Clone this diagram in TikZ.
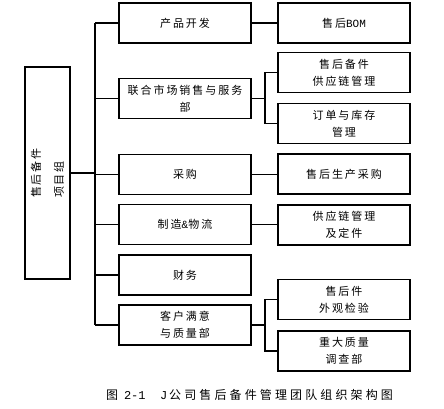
\documentclass[tikz,border=0pt]{standalone}
\usepackage{fontspec}
\setmainfont{Noto Sans CJK SC}[LetterSpace=18]
\newfontfamily\capfont{Noto Sans CJK SC}[LetterSpace=26]
\newfontfamily\latfont{Liberation Mono}
\begin{document}
\begin{tikzpicture}[x=1pt,y=-1pt,
  box/.style={draw,line width=1.3pt,minimum width=132pt,minimum height=40pt,inner sep=0pt,
    align=center,font=\fontsize{11}{17}\selectfont},
  conn/.style={line width=1.3pt}]
\useasboundingbox (0,0) rectangle (444,409);
% root
\node[draw,line width=1.3pt,minimum width=212pt,minimum height=45pt,inner sep=0pt,rotate=90,
  align=left,font=\fontsize{11}{23}\selectfont] (root) at (47.5,173) {售后备件\\项目组};
% level 1
\node[box] (a1) at (185,23) {产品开发};
\node[box] (a2) at (185,98.5) {联合市场销售与服务\\部};
\node[box] (a3) at (185,174.5) {采购};
\node[box] (a4) at (185,224.5) {制造{\latfont\&}物流};
\node[box] (a5) at (185,275) {财务};
\node[box] (a6) at (185,325) {客户满意\\与质量部};
% level 2
\node[box] (b1) at (344,23) {售后{\latfont BOM}};
\node[box] (b2) at (344,72.5) {售后备件\\供应链管理};
\node[box] (b3) at (344,123.5) {订单与库存\\管理};
\node[box] (b4) at (344,174) {售后生产采购};
\node[box] (b5) at (344,225) {供应链管理\\及定件};
\node[box] (b6) at (344,299.5) {售后件\\外观检验};
\node[box] (b7) at (344,351) {重大质量\\调查部};
% trunk
\coordinate (t1) at (95,23);
\coordinate (t2) at (95,325);
\draw[conn] (t1) -- (t2);
\draw[conn] (root.south) -- (root.south -| t1);
\foreach \n in {a1,a2,a3,a4,a5,a6} \draw[conn] (\n.west) -- (\n.west -| t1);
% direct links
\draw[conn] (a1) -- (b1);
\draw[conn] (a3.east) -- (a3.east -| b4.west);
\draw[conn] (a4.east) -- (a4.east -| b5.west);
% brackets
\coordinate (s) at (265,0);
\draw[conn] (a2.east) -- (a2.east -| s);
\draw[conn] (b2.west) -- (b2.west -| s) -- (b3.west -| s) -- (b3.west);
\draw[conn] (a6.east) -- (a6.east -| s);
\draw[conn] (b6.west) -- (b6.west -| s) -- (b7.west -| s) -- (b7.west);
% caption
\node[font=\fontsize{12}{14}\selectfont\capfont,anchor=west,inner sep=0pt] (cap) at (106,395) {图 {\latfont 2-1}\hspace{1.2em}{\latfont J}\hspace{2pt}公司售后备件管理团队组织架构图};
\end{tikzpicture}
\end{document}
